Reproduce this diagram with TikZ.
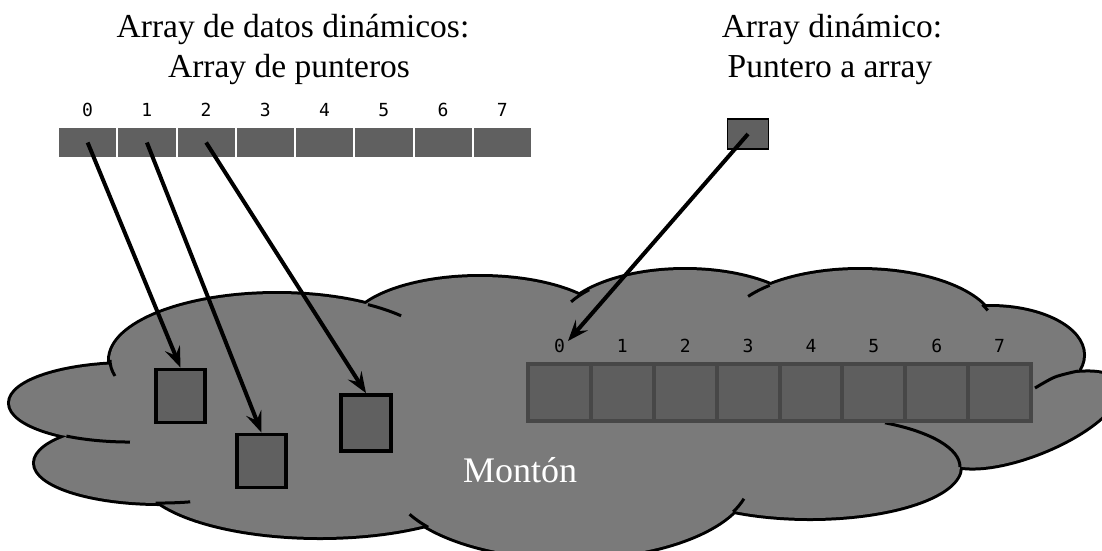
\documentclass[tikz,border=0pt]{standalone}
\usepackage{fontspec}
\setmainfont{Liberation Serif}
\newfontfamily\monofont{DejaVu Sans Mono}
\usetikzlibrary{arrows.meta}
\definecolor{cloudgray}{HTML}{7A7A7A}
\definecolor{cellgray}{HTML}{606060}
\definecolor{heapcell}{HTML}{5E5E5E}
\definecolor{heapline}{HTML}{474747}
\def\mycloudlobes{%
 (130,-403) ellipse [x radius=120,y radius=39]
 (160,-463) ellipse [x radius=125,y radius=40]
 (320,-474) ellipse [x radius=180,y radius=63]
 (277,-360) ellipse [x radius=167,y radius=66]
 (480,-330) ellipse [x radius=131,y radius=53]
 (685,-330) ellipse [x radius=129,y radius=60]
 (860,-330) ellipse [x radius=135,y radius=60]
 (990,-355) ellipse [x radius=93,y radius=48]
 (810,-467) ellipse [x radius=150,y radius=51]
 (570,-478) ellipse [x radius=180,y radius=80]}
\begin{document}
\begin{tikzpicture}[x=1pt,y=1pt,
  toptitle/.style={font=\fontsize{33.5}{40}\selectfont, anchor=base, inner sep=0},
  topcell/.style={draw=white, line width=2pt, fill=cellgray, minimum width=59.25pt, minimum height=31pt, inner sep=0, outer sep=0},
  heapcellbox/.style={draw=heapline, line width=4pt, fill=heapcell, minimum width=62.875pt, minimum height=57pt, inner sep=0, outer sep=0},
  idx/.style={font=\monofont\fontsize{18}{18}\selectfont, anchor=base, inner sep=0},
  datbox/.style={draw=black, line width=3.8pt, fill=cellgray, minimum width=49.5pt, inner sep=0},
  ptr/.style={-{Stealth[length=21pt,width=16pt,inset=8pt]}, line width=4pt, black},
  outline/.style={line width=3pt, black}
]
\useasboundingbox (0,0) rectangle (1102,-550);
\begin{scope}
\clip (0,0) rectangle (1102,-550);
% outer outline
\filldraw[fill=cloudgray, draw=black, line width=6pt] \mycloudlobes;
\begin{scope}[shift={(1030,-420)},rotate=22]
\filldraw[fill=cloudgray, draw=black, line width=6pt] (0,0) ellipse [x radius=95,y radius=34];
\end{scope}
% interior fill
\fill[cloudgray] \mycloudlobes;
\begin{scope}[shift={(1030,-420)},rotate=22]
\fill[cloudgray] (0,0) ellipse [x radius=95,y radius=34];
\end{scope}
\fill[cloudgray] (600,-400) ellipse [x radius=420,y radius=75];
% inner arcs
\draw[outline] (110,-360) arc[start angle=180,end angle=194,x radius=167,y radius=66];
\draw[outline] (66.4,-436.1) arc[start angle=238,end angle=270,x radius=120,y radius=39];
\draw[outline] (155.6,-503) arc[start angle=268,end angle=284,x radius=125,y radius=40];
\draw[outline] (368,-304.6) arc[start angle=57,end angle=42,x radius=167,y radius=66];
\draw[outline] (571.1,-301.8) arc[start angle=152,end angle=138,x radius=129,y radius=60];
\draw[outline] (748.1,-296.4) arc[start angle=146,end angle=132,x radius=135,y radius=60];
\draw[outline] (982.4,-304.6) arc[start angle=25,end angle=19,x radius=135,y radius=60];
\draw[outline] (885,-422.8) arc[start angle=60,end angle=0,x radius=150,y radius=51];
\draw[outline] (743.9,-498.7) arc[start angle=-15,end angle=-25,x radius=180,y radius=80];
\draw[outline] (409.6,-514.3) arc[start angle=207,end angle=218,x radius=180,y radius=80];
\draw[outline] plot[smooth] coordinates {(1035,-388) (1055,-377) (1078,-371)};
\end{scope}
% titles
\node[toptitle] (t1a) at (293,-37) {Array de datos dinámicos:};
\node[toptitle] (t1b) at (289,-77) {Array de punteros};
\node[toptitle] (t2a) at (832,-37) {Array dinámico:};
\node[toptitle] (t2b) at (830,-77) {Puntero a array};
% top array
\foreach \i in {0,...,7} {
  \node[topcell] (c\i) at ({58+59.25*(\i+0.5)},-142.5) {};
  \node[idx] (ti\i) at ({58+59.25*(\i+0.5)},-116) {\i};
}
% heap array
\foreach \i in {0,...,7} {
  \node[heapcellbox] (h\i) at ({528+62.875*(\i+0.5)},-392.5) {};
  \node[idx] (hi\i) at ({528+62.875*(\i+0.5)},-352) {\i};
}
% pointer box
\node[draw=black, line width=1.8pt, fill=cellgray, minimum width=41pt, minimum height=30pt, inner sep=0] (p) at (748,-134) {};
% data boxes
\node[datbox, minimum height=53pt] (b1) at (180.5,-396) {};
\node[datbox, minimum height=53pt] (b2) at (261.5,-461) {};
\node[datbox, minimum height=56pt] (b3) at (366,-423) {};
% heap label
\node[font=\fontsize{36}{40}\selectfont, text=white, anchor=base] (heap) at (520,-482) {Montón};
% arrows
\draw[ptr] (c0.center) -- (b1.north);
\draw[ptr] (c1.center) -- (b2.north);
\draw[ptr] (c2.center) -- (b3.north);
\coordinate (h0tip) at (568,-341);
\draw[ptr] (p.center) -- (h0tip);
\end{tikzpicture}
\end{document}
